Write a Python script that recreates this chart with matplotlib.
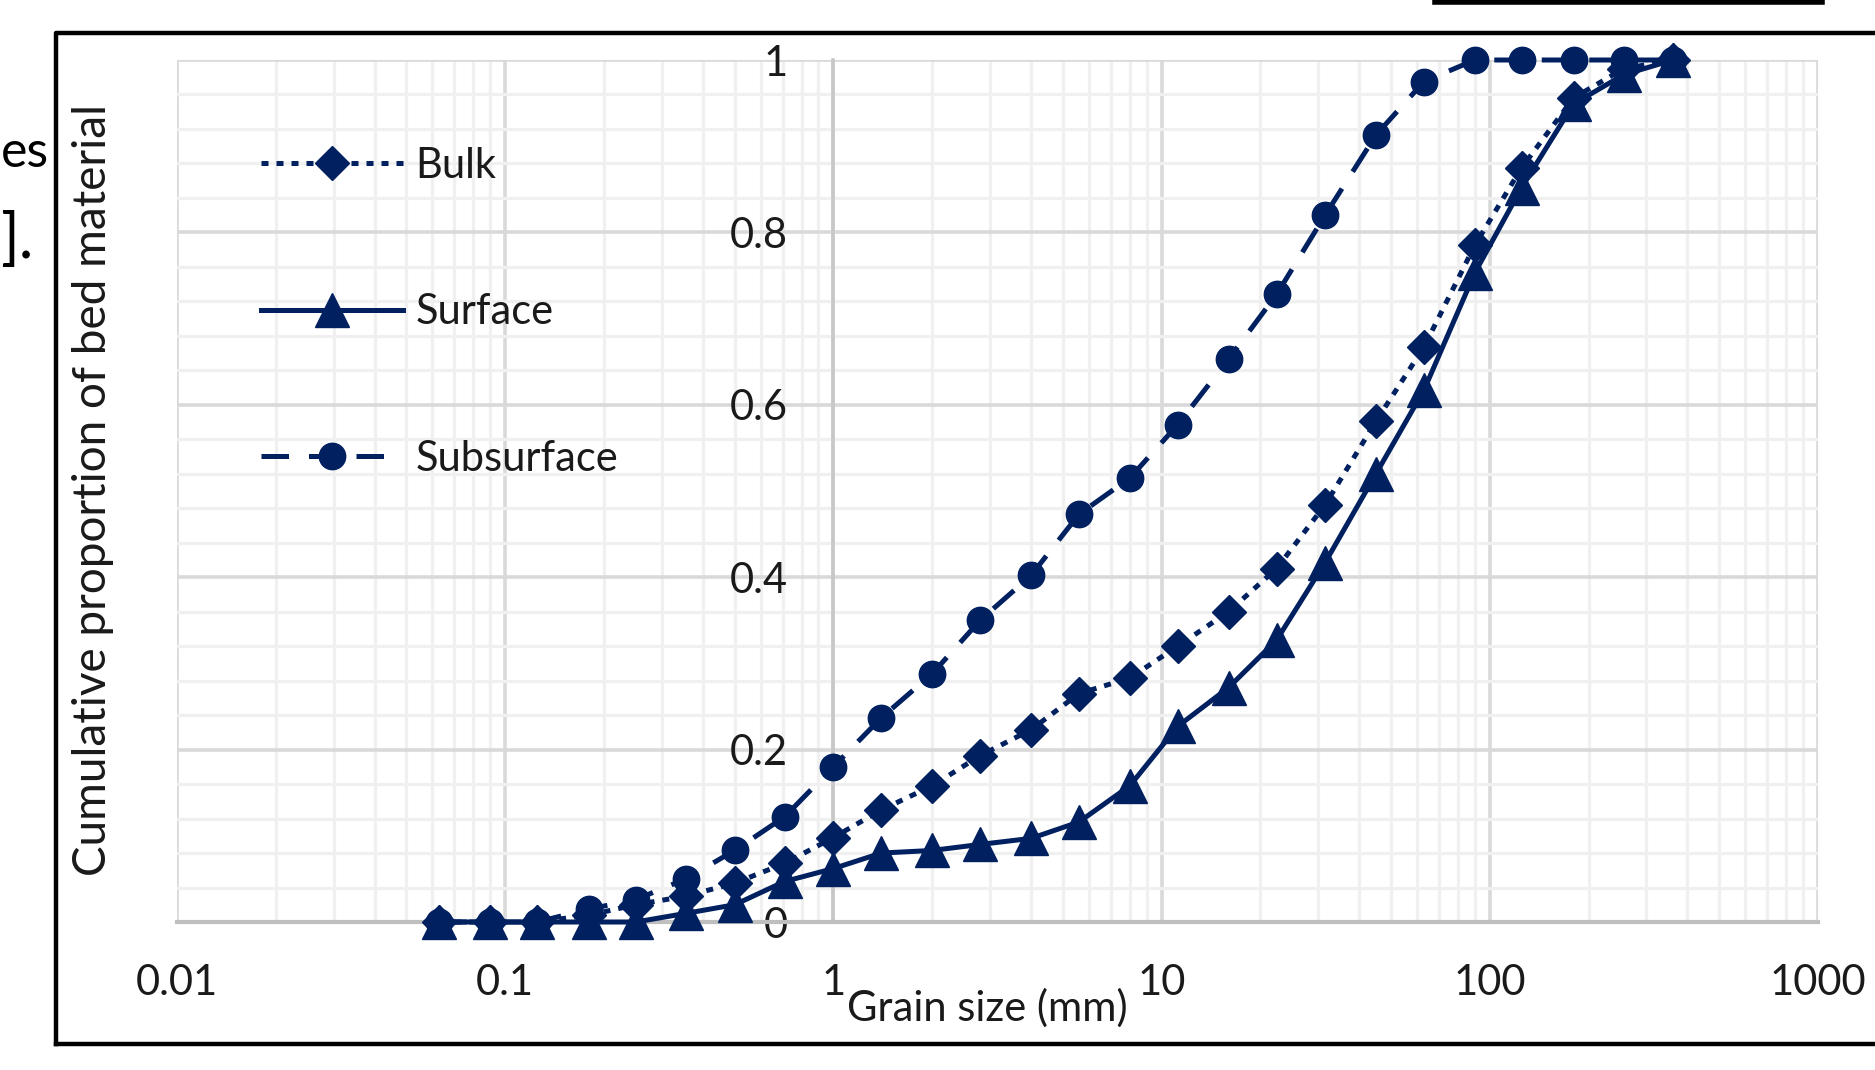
import matplotlib.pyplot as plt
from matplotlib.lines import Line2D
from matplotlib.ticker import LogLocator, MultipleLocator, FixedFormatter, NullFormatter

plt.rcParams['font.family'] = ['Lato', 'DejaVu Sans']

# sieve sizes (mm)
grain_mm = [0.063, 0.09, 0.125, 0.18, 0.25, 0.355, 0.5, 0.71, 1, 1.4, 2, 2.8, 4,
            5.6, 8, 11.2, 16, 22.4, 31.5, 45, 63, 90, 125, 180, 256, 362]

bulk = [0, 0, 0, 0.008, 0.02, 0.03, 0.045, 0.068, 0.098, 0.13, 0.158, 0.193, 0.223,
        0.265, 0.283, 0.32, 0.36, 0.41, 0.484, 0.581, 0.667, 0.785, 0.875, 0.956, 0.99, 1.0]
surface = [0, 0, 0, 0, 0, 0.01, 0.02, 0.047, 0.062, 0.08, 0.083, 0.09, 0.097,
           0.116, 0.158, 0.227, 0.272, 0.327, 0.417, 0.52, 0.617, 0.753, 0.852, 0.949, 0.983, 1.0]
subsurface = [0, 0, 0, 0.015, 0.026, 0.05, 0.083, 0.122, 0.18, 0.237, 0.288, 0.35, 0.402,
              0.473, 0.515, 0.577, 0.653, 0.728, 0.82, 0.913, 0.975, 1.0, 1.0, 1.0, 1.0, 1.0]

y_ticks = [0, 0.2, 0.4, 0.6, 0.8, 1.0]
y_labels = ['0', '0.2', '0.4', '0.6', '0.8', '1']

W, H = 1875, 1070
navy = '#002060'
txt = '#1a1a1a'
fs = 30

fig = plt.figure(figsize=(W / 100, H / 100), dpi=100)
ax = fig.add_axes([177 / W, 1 - 922 / H, 1641 / W, 862 / H])

l_sub, = ax.plot(grain_mm, subsurface, color=navy, lw=3.6, ls=(0, (5.5, 4)),
                 marker='o', ms=19, clip_on=False, zorder=3)
l_bulk, = ax.plot(grain_mm, bulk, color=navy, lw=3.6, ls=(0, (1.4, 1.6)),
                  marker='D', ms=17, clip_on=False, zorder=4)
l_surf, = ax.plot(grain_mm, surface, color=navy, lw=3.6, ls='-',
                  marker='^', ms=25, clip_on=False, zorder=5)
for l in (l_sub, l_bulk, l_surf):
    l.set_dash_capstyle('butt')

ax.set_xscale('log')
ax.set_xlim(0.01, 1000)
ax.set_ylim(0, 1)

ax.xaxis.set_major_locator(LogLocator(base=10, numticks=10))
ax.xaxis.set_minor_locator(LogLocator(base=10, subs=range(2, 10), numticks=50))
ax.xaxis.set_minor_formatter(NullFormatter())
ax.set_xticks([0.01, 0.1, 1, 10, 100, 1000])
ax.set_xticklabels(['0.01', '0.1', '1', '10', '100', '1000'])
ax.set_yticks(y_ticks)
ax.yaxis.set_major_formatter(FixedFormatter(y_labels))
ax.yaxis.set_minor_locator(MultipleLocator(0.04))

ax.set_axisbelow(True)
ax.grid(which='major', color='#d9d9d9', lw=2.6)
ax.grid(which='minor', color='#f0f0f0', lw=2.3)

for s in ('top', 'right'):
    ax.spines[s].set_visible(False)
ax.spines['bottom'].set_color('#bfbfbf')
ax.spines['bottom'].set_linewidth(3)
ax.spines['left'].set_position(('data', 1))
ax.spines['left'].set_color('#c8c8c8')
ax.spines['left'].set_linewidth(2.6)

ax.tick_params(axis='both', which='both', length=0, labelsize=fs, labelcolor=txt)
ax.tick_params(axis='x', pad=30)
ax.tick_params(axis='y', pad=33)

fig.text(987 / W, 1 - 1008 / H, 'Grain size (mm)', fontsize=fs, color=txt,
         ha='center', va='center')
fig.text(93 / W, 1 - 490 / H, 'Cumulative proportion of bed material', fontsize=33,
         color=txt, rotation=90, ha='center', va='center')

ax.legend([l_bulk, l_surf, l_sub], ['Bulk', 'Surface', 'Subsurface'],
          loc='upper left', bbox_to_anchor=(261 / W, 1 - 147 / H),
          bbox_transform=fig.transFigure, frameon=False, fontsize=fs,
          handlelength=3.4, handletextpad=0.3, labelspacing=2.6,
          borderpad=0, borderaxespad=0, numpoints=1, labelcolor=txt)

# surrounding page pieces: frame and text fragments
fig.add_artist(Line2D([56 / W, 56 / W, 1.01], [1 - 1044 / H, 1 - 33 / H, 1 - 33 / H],
                      color='black', lw=3.2, transform=fig.transFigure))
fig.add_artist(Line2D([56 / W, 1.01], [1 - 1044 / H, 1 - 1044 / H],
                      color='black', lw=3.2, transform=fig.transFigure))
fig.add_artist(Line2D([1435 / W, 1822 / W], [1 - 2 / H, 1 - 2 / H],
                      color='black', lw=4, transform=fig.transFigure))
fig.text(1 / W, 1 - 167 / H, 'es', fontsize=36, color='black', ha='left', va='baseline')
fig.text(33 / W, 1 - 258 / H, '].', fontsize=44, color='black', ha='right', va='baseline')

fig.savefig('out.png', dpi=100)
